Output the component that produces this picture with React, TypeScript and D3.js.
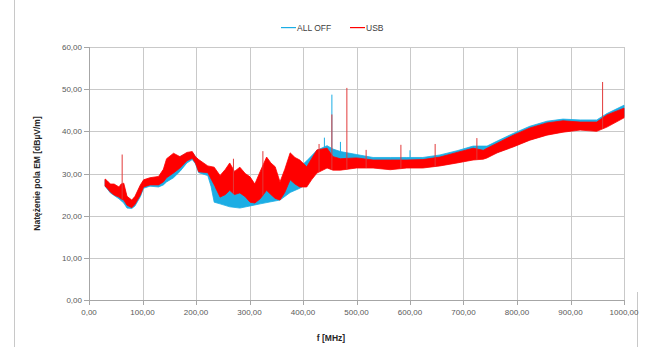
import React, { useEffect, useRef } from 'react';
import * as d3 from 'd3';

// USB series: band envelope (low / high)
const usbFreq = [30, 34, 40, 47, 56, 60, 65, 71, 80, 86, 96, 102, 114, 130, 139, 145, 158, 170, 183, 193, 199, 205, 222, 234, 245, 255, 263, 272, 282, 292, 301, 310, 320, 332, 340, 348, 357, 366, 376, 385, 394, 407, 416, 426, 445, 456, 470, 500, 531, 563, 594, 624, 656, 688, 718, 737, 744, 763, 793, 824, 856, 886, 918, 949, 968, 1000];
const usbLow = [27.0, 26.5, 25.6, 24.9, 24.4, 24.0, 23.7, 22.5, 21.9, 22.7, 24.9, 26.8, 27.3, 27.3, 28.0, 29.0, 30.1, 31.3, 33.0, 33.6, 32.5, 30.4, 30.2, 27.3, 24.4, 25.0, 26.0, 25.0, 25.4, 24.5, 23.2, 23.0, 24.0, 26.0, 25.0, 24.1, 23.7, 25.5, 28.5, 27.5, 26.8, 26.8, 28.5, 30.1, 31.3, 30.8, 30.8, 31.3, 31.3, 30.9, 31.3, 31.3, 31.8, 32.5, 33.2, 33.4, 33.7, 34.9, 36.3, 37.9, 39.1, 39.8, 40.3, 40.0, 41.0, 43.2];
const usbHigh = [28.7, 28.3, 27.5, 27.5, 26.8, 27.5, 27.7, 24.6, 23.7, 24.6, 27.3, 28.5, 29.0, 29.3, 31.0, 33.5, 34.8, 34.0, 35.0, 35.2, 34.0, 33.3, 31.8, 31.5, 29.5, 31.0, 32.5, 30.5, 31.5, 30.0, 29.2, 27.5, 30.5, 33.9, 32.5, 31.6, 28.0, 31.0, 34.9, 33.8, 33.2, 31.6, 33.5, 35.6, 36.0, 34.0, 33.5, 33.7, 33.2, 33.2, 33.2, 33.3, 33.9, 35.0, 36.0, 35.5, 36.0, 37.2, 39.1, 40.8, 42.0, 42.5, 42.2, 42.2, 43.9, 45.5];

// ALL OFF series
const offFreq = [30, 40, 56, 65, 71, 80, 86, 96, 102, 114, 130, 139, 145, 158, 170, 183, 193, 199, 205, 222, 228, 234, 245, 263, 282, 301, 320, 340, 357, 376, 394, 407, 426, 445, 456, 470, 500, 531, 563, 594, 624, 656, 688, 718, 744, 763, 793, 824, 856, 886, 918, 949, 968, 1000];
const offLow = [27.0, 25.4, 24.0, 23.0, 21.8, 21.7, 22.3, 24.5, 26.5, 27.0, 26.8, 27.3, 28.0, 29.0, 30.5, 32.5, 33.3, 32.3, 30.2, 29.5, 27.0, 23.2, 22.8, 22.1, 21.8, 22.3, 22.8, 23.3, 23.7, 25.5, 26.5, 27.5, 30.5, 31.5, 31.3, 31.3, 31.5, 31.5, 31.3, 31.5, 31.5, 32.0, 32.7, 33.4, 34.0, 35.0, 36.5, 38.0, 39.3, 40.0, 40.5, 40.3, 41.3, 43.5];
const offHigh = [28.5, 27.3, 26.5, 27.0, 24.3, 23.5, 24.3, 27.0, 28.3, 28.8, 29.0, 30.5, 32.5, 34.0, 34.0, 34.8, 35.0, 34.0, 33.0, 31.5, 31.0, 27.0, 26.5, 26.0, 25.5, 25.5, 26.0, 26.5, 27.5, 29.5, 31.5, 33.0, 35.5, 36.6, 35.8, 35.2, 34.5, 33.8, 33.8, 33.8, 33.8, 34.4, 35.4, 36.5, 36.5, 37.7, 39.5, 41.2, 42.4, 42.9, 42.7, 42.7, 44.2, 46.2];

// narrow spikes
const usbSpikeFreq = [62, 270, 325, 430, 454, 482, 518, 583, 647, 725, 960];
const usbSpikeVal = [34.5, 33.5, 35.3, 37.0, 44.0, 50.3, 35.6, 36.8, 37.0, 38.4, 51.7];
const offSpikeFreq = [440, 454, 470, 600];
const offSpikeVal = [38.5, 48.7, 37.5, 35.5];

const xTicks = [0, 100, 200, 300, 400, 500, 600, 700, 800, 900, 1000];
const yTicks = [0, 10, 20, 30, 40, 50, 60];

const W = 650;
const H = 347;
const BLUE = '#1cade4';
const RED = '#ff0000';

const fmt = (v: number) => v.toFixed(2).replace('.', ',');

const App = () => {
  const svgRef = useRef<SVGSVGElement>(null);

  useEffect(() => {
    if (!svgRef.current) return;
    const svg = d3.select(svgRef.current);
    svg.selectAll('*').remove();

    const left = 89, right = 624, top = 47, bottom = 300;
    const x = d3.scaleLinear().domain([0, 1000]).range([left, right]);
    const y = d3.scaleLinear().domain([0, 60]).range([bottom, top]);
    const font = 'Liberation Sans, Arial, sans-serif';

    // outer frame pieces
    svg.append('line').attr('x1', 14.5).attr('x2', 14.5).attr('y1', 0).attr('y2', H)
      .attr('stroke', '#c8c8c8');
    svg.append('line').attr('x1', 637.5).attr('x2', 637.5).attr('y1', 292).attr('y2', H)
      .attr('stroke', '#c8c8c8');

    // gridlines
    const grid = svg.append('g');
    grid.selectAll('line.hg').data(yTicks.slice(1)).join('line').attr('class', 'hg')
      .attr('x1', left).attr('x2', right)
      .attr('y1', d => Math.round(y(d)) + 0.5).attr('y2', d => Math.round(y(d)) + 0.5)
      .attr('stroke', '#c9c9c9');
    grid.selectAll('line.vg').data(xTicks.slice(1)).join('line').attr('class', 'vg')
      .attr('y1', top).attr('y2', bottom)
      .attr('x1', d => Math.round(x(d)) + 0.5).attr('x2', d => Math.round(x(d)) + 0.5)
      .attr('stroke', '#c9c9c9');

    const band = (f: number[], lo: number[], hi: number[]) =>
      d3.area<number>()
        .x((_, i) => x(f[i]))
        .y0((_, i) => y(lo[i]))
        .y1((_, i) => y(hi[i]))(f);

    const offBase = d3.scaleLinear(offFreq, offLow);
    const usbBase = d3.scaleLinear(usbFreq, usbLow);

    // ALL OFF first, USB drawn over it
    const plot = svg.append('g');
    plot.append('path').attr('d', band(offFreq, offLow, offHigh)).attr('fill', BLUE)
      .attr('stroke', BLUE).attr('stroke-width', 0.8);
    plot.selectAll('line.offspike').data(offSpikeFreq).join('line').attr('class', 'offspike')
      .attr('x1', d => x(d)).attr('x2', d => x(d))
      .attr('y1', (d, i) => y(offSpikeVal[i])).attr('y2', d => y(offBase(d)))
      .attr('stroke', BLUE).attr('stroke-width', 1);

    plot.append('path').attr('d', band(usbFreq, usbLow, usbHigh)).attr('fill', RED)
      .attr('stroke', RED).attr('stroke-width', 0.8);
    plot.selectAll('line.usbspike').data(usbSpikeFreq).join('line').attr('class', 'usbspike')
      .attr('x1', d => x(d)).attr('x2', d => x(d))
      .attr('y1', (d, i) => y(usbSpikeVal[i])).attr('y2', d => y(usbBase(d)))
      .attr('stroke', '#e23a3a').attr('stroke-width', 1);

    // axes
    const axes = svg.append('g');
    axes.append('line').attr('x1', left + 0.5).attr('x2', left + 0.5).attr('y1', top).attr('y2', bottom)
      .attr('stroke', '#a6a6a6');
    axes.append('line').attr('x1', left).attr('x2', right).attr('y1', bottom + 0.5).attr('y2', bottom + 0.5)
      .attr('stroke', '#a6a6a6');
    axes.selectAll('line.yt').data(yTicks).join('line').attr('class', 'yt')
      .attr('x1', left - 5).attr('x2', left)
      .attr('y1', d => Math.round(y(d)) + 0.5).attr('y2', d => Math.round(y(d)) + 0.5)
      .attr('stroke', '#a6a6a6');
    axes.selectAll('line.xt').data(xTicks).join('line').attr('class', 'xt')
      .attr('y1', bottom).attr('y2', bottom + 5)
      .attr('x1', d => Math.round(x(d)) + 0.5).attr('x2', d => Math.round(x(d)) + 0.5)
      .attr('stroke', '#a6a6a6');

    axes.selectAll('text.yl').data(yTicks).join('text').attr('class', 'yl')
      .attr('x', left - 7).attr('y', d => y(d) + 3)
      .attr('text-anchor', 'end').attr('font-family', font).attr('font-size', 8)
      .attr('fill', '#595959').text(d => fmt(d));
    axes.selectAll('text.xl').data(xTicks).join('text').attr('class', 'xl')
      .attr('x', d => x(d)).attr('y', bottom + 15)
      .attr('text-anchor', 'middle').attr('font-family', font).attr('font-size', 8)
      .attr('fill', '#595959').text(d => fmt(d));

    // axis titles
    svg.append('text')
      .attr('transform', `translate(40, ${(top + bottom) / 2}) rotate(-90)`)
      .attr('text-anchor', 'middle').attr('font-family', font).attr('font-size', 8.5)
      .attr('font-weight', 'bold').attr('fill', '#262626')
      .text('Natężenie pola EM  [dBµV/m]');
    svg.append('text')
      .attr('x', 331).attr('y', 341)
      .attr('text-anchor', 'middle').attr('font-family', font).attr('font-size', 8.5)
      .attr('font-weight', 'bold').attr('fill', '#262626')
      .text('f [MHz]');

    // legend
    const legend = svg.append('g');
    const items = [
      { name: 'ALL OFF', color: BLUE, x: 281 },
      { name: 'USB', color: RED, x: 350 },
    ];
    items.forEach(l => {
      legend.append('rect').attr('x', l.x).attr('y', 27).attr('width', 15).attr('height', 1.2)
        .attr('fill', l.color);
      legend.append('text').attr('x', l.x + 16).attr('y', 30.5)
        .attr('font-family', font).attr('font-size', 8.5).attr('fill', '#404040')
        .text(l.name);
    });
  }, []);

  return (
    <svg
      ref={svgRef}
      width={W}
      height={H}
      style={{ position: 'absolute', left: 0, top: 0, background: '#fff' }}
    />
  );
};

export default App;
